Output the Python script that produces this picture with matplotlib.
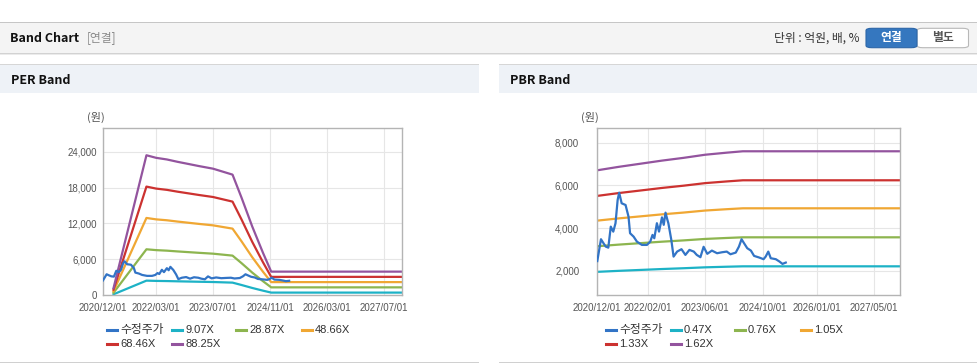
import matplotlib
matplotlib.use("Agg")
import matplotlib.pyplot as plt
from matplotlib.lines import Line2D
from matplotlib.patches import Rectangle, FancyBboxPatch
import pandas as pd

W, H = 978, 364
KR = ["Noto Sans CJK KR", "DejaVu Sans"]
NUM = ["Liberation Sans", "Noto Sans CJK KR"]

# 수정주가 (shared by both charts)
price_dates = [
    "2020-12-01", "2021-01-01", "2021-01-22", "2021-02-10", "2021-03-04", "2021-03-25",
    "2021-04-15", "2021-05-04", "2021-05-22", "2021-06-04", "2021-06-25", "2021-07-28",
    "2021-08-22", "2021-09-04", "2021-10-04", "2021-11-01", "2021-12-13", "2022-01-25",
    "2022-02-22", "2022-03-13", "2022-03-28", "2022-04-19", "2022-05-07", "2022-06-01",
    "2022-06-16", "2022-07-01", "2022-07-16", "2022-07-25", "2022-08-19", "2022-09-07",
    "2022-10-07", "2022-11-13", "2022-12-16", "2023-01-19", "2023-02-25", "2023-03-22",
    "2023-04-22", "2023-05-19", "2023-06-19", "2023-07-28", "2023-09-10", "2023-10-22",
    "2023-12-01", "2024-01-01", "2024-02-15", "2024-03-13", "2024-04-04", "2024-04-25",
    "2024-05-22", "2024-06-22", "2024-07-19", "2024-09-01", "2024-10-07", "2024-10-25",
    "2024-11-16", "2024-12-07", "2025-01-19", "2025-02-19", "2025-03-16", "2025-04-13",
]
price = [
    2450, 3475, 3290, 3130, 3080, 4065,
    3830, 4225, 5316, 5658, 5160, 5080,
    4534, 3756, 3597, 3363, 3208, 3208,
    3363, 3677, 3520, 4225, 3831, 4500,
    4150, 4720, 4400, 4225, 3443, 2660,
    2895, 3007, 2740, 2974, 2895, 2740,
    2632, 3120, 2790, 2942, 2818, 2864,
    2895, 2770, 2848, 3130, 3475, 3288,
    3054, 2942, 2693, 2615, 2538, 2660,
    2895, 2584, 2538, 2427, 2318, 2380,
]

# PER band: EPS basis
eps_dates = [
    "2021-03-01", "2021-12-08", "2022-03-01", "2022-06-01", "2022-09-01", "2022-12-01",
    "2023-03-01", "2023-07-01", "2023-12-15", "2024-03-01", "2024-06-01", "2024-09-01",
    "2024-11-10", "2027-12-05",
]
eps = [13, 265.5, 260.6, 257.5, 253, 249, 245, 240, 228.7, 185, 130, 80, 44.4, 44.4]
per_mults = [9.07, 28.87, 48.66, 68.46, 88.25]
per_labels = ["9.07X", "28.87X", "48.66X", "68.46X", "88.25X"]
per_ticks = ["2020/12/01", "2022/03/01", "2023/07/01", "2024/11/01", "2026/03/01", "2027/07/01"]

# PBR band: BPS basis
bps_dates = [
    "2020-12-01", "2021-06-01", "2021-12-01", "2022-06-01", "2022-12-01", "2023-06-01",
    "2023-12-01", "2024-04-15", "2027-12-05",
]
bps = [4140, 4240, 4330, 4420, 4500, 4590, 4650, 4690, 4690]
pbr_mults = [0.47, 0.76, 1.05, 1.33, 1.62]
pbr_labels = ["0.47X", "0.76X", "1.05X", "1.33X", "1.62X"]
pbr_ticks = ["2020/12/01", "2022/02/01", "2023/06/01", "2024/10/01", "2026/01/01", "2027/05/01"]

price_color = "#3274c6"
band_colors = ["#1db2c6", "#8db54f", "#f0a733", "#cc3230", "#93549e"]


def fx(x):
    return x / W


def fy(y):
    return 1 - y / H


fig = plt.figure(figsize=(W / 100, H / 100), dpi=100)
fig.patch.set_facecolor("white")


def rect(x0, y0, x1, y1, color, **kw):
    fig.patches.append(Rectangle((fx(x0), fy(y1)), fx(x1 - x0), (y1 - y0) / H,
                                 transform=fig.transFigure, facecolor=color,
                                 edgecolor="none", **kw))


# header bar
rect(0, 22, W, 52.5, "#f4f4f4")
rect(0, 21.5, W, 22.8, "#c6c6c6")
rect(0, 52.5, W, 53.5, "#d2d2d2")
rect(0, 53.5, W, 55, "#ebebeb")
fig.text(fx(10.5), fy(38), "Band Chart", family=KR, fontsize=9, weight="bold",
         color="#111111", va="center")
fig.text(fx(87), fy(38), "[연결]", family=KR, fontsize=8.5, color="#8a8a8a", va="center")
fig.text(fx(860), fy(38), "단위 : 억원, 배, %", family=KR, fontsize=8.5, color="#333333",
         va="center", ha="right")
fig.patches.append(FancyBboxPatch((fx(917), fy(47.7)), fx(51.5), 19.4 / H,
                                  boxstyle="round,pad=0,rounding_size=0.006",
                                  transform=fig.transFigure, facecolor="white",
                                  edgecolor="#b8b8b8", lw=0.8))
fig.patches.append(FancyBboxPatch((fx(866), fy(47.7)), fx(51), 19.4 / H,
                                  boxstyle="round,pad=0,rounding_size=0.006",
                                  transform=fig.transFigure, facecolor="#3577bf",
                                  edgecolor="#2c66a8", lw=0.8))
fig.text(fx(891.5), fy(38), "연결", family=KR, fontsize=8.5, weight="bold", color="white",
         ha="center", va="center")
fig.text(fx(943), fy(38), "별도", family=KR, fontsize=8.5, weight="bold", color="#555555",
         ha="center", va="center")

# panel headers
for x0, x1, title in [(0, 479, "PER Band"), (499, W, "PBR Band")]:
    rect(x0, 64, x1, 93, "#eef2f7")
    rect(x0, 63.5, x1, 64.8, "#d6d6d6")
    rect(x0, 361.8, x1, 363, "#d0d0d0")
    fig.text(fx(x0 + 11), fy(80), title, family=KR, fontsize=9, weight="bold",
             color="#111111", va="center")


def band_panel(box, ylim, yticks, ypad, tick_labels, base_dates, base, mults, labels, unit_x, leg_x):
    x0, y0, x1, y1 = box
    ax = fig.add_axes([fx(x0), fy(y1), (x1 - x0) / W, (y1 - y0) / H])
    ax.set_facecolor("white")
    bd = pd.to_datetime(base_dates)
    for m, c in zip(mults, band_colors):
        ax.plot(bd, [m * v for v in base], color=c, lw=1.6, zorder=2)
    ax.plot(pd.to_datetime(price_dates), price, color=price_color, lw=1.6, zorder=3)
    ax.set_xlim(pd.Timestamp("2020-12-01"), pd.Timestamp("2027-12-05"))
    ax.set_ylim(*ylim)
    ax.set_xticks(pd.to_datetime(tick_labels))
    ax.set_xticklabels(tick_labels)
    ax.set_yticks(yticks)
    ax.set_yticklabels([f"{v:,}" for v in yticks])
    ax.grid(True, color="#e6e6e6", lw=0.8, zorder=0)
    ax.set_axisbelow(True)
    for s in ax.spines.values():
        s.set_color("#b4b4b4")
        s.set_linewidth(1)
    ax.tick_params(axis="x", length=0, pad=5.5, labelsize=7, labelcolor="#555555")
    ax.tick_params(axis="y", length=0, pad=ypad, labelsize=7, labelcolor="#555555")
    for t in ax.get_xticklabels() + ax.get_yticklabels():
        t.set_family(NUM)
    fig.text(fx(unit_x), fy(117.5), "(원)", family=KR, fontsize=8, color="#555555",
             va="center")

    # legend
    names = ["수정주가"] + labels
    cols = [price_color] + band_colors
    col_x = [leg_x, leg_x + 65, leg_x + 129, leg_x + 195]
    for i, (n, c) in enumerate(zip(names, cols)):
        lx = col_x[i % 4]
        ly = 330 if i < 4 else 344.3
        fig.add_artist(Line2D([fx(lx), fx(lx + 10)], [fy(ly), fy(ly)], color=c, lw=2.2,
                              transform=fig.transFigure))
        fig.text(fx(lx + 13), fy(ly), n, family=NUM,
                 fontsize=8.5 if i == 0 else 8, color="#333333", va="center")
    return ax


band_panel((103, 128, 402, 295), (0, 28000), [0, 6000, 12000, 18000, 24000], 4.5,
           per_ticks, eps_dates, eps, per_mults, per_labels, 87, 107)
band_panel((597.3, 128.3, 900, 295), (860, 8675), [2000, 4000, 6000, 8000], 13,
           pbr_ticks, bps_dates, bps, pbr_mults, pbr_labels, 581.5, 606)

fig.savefig("out.png", dpi=100)
